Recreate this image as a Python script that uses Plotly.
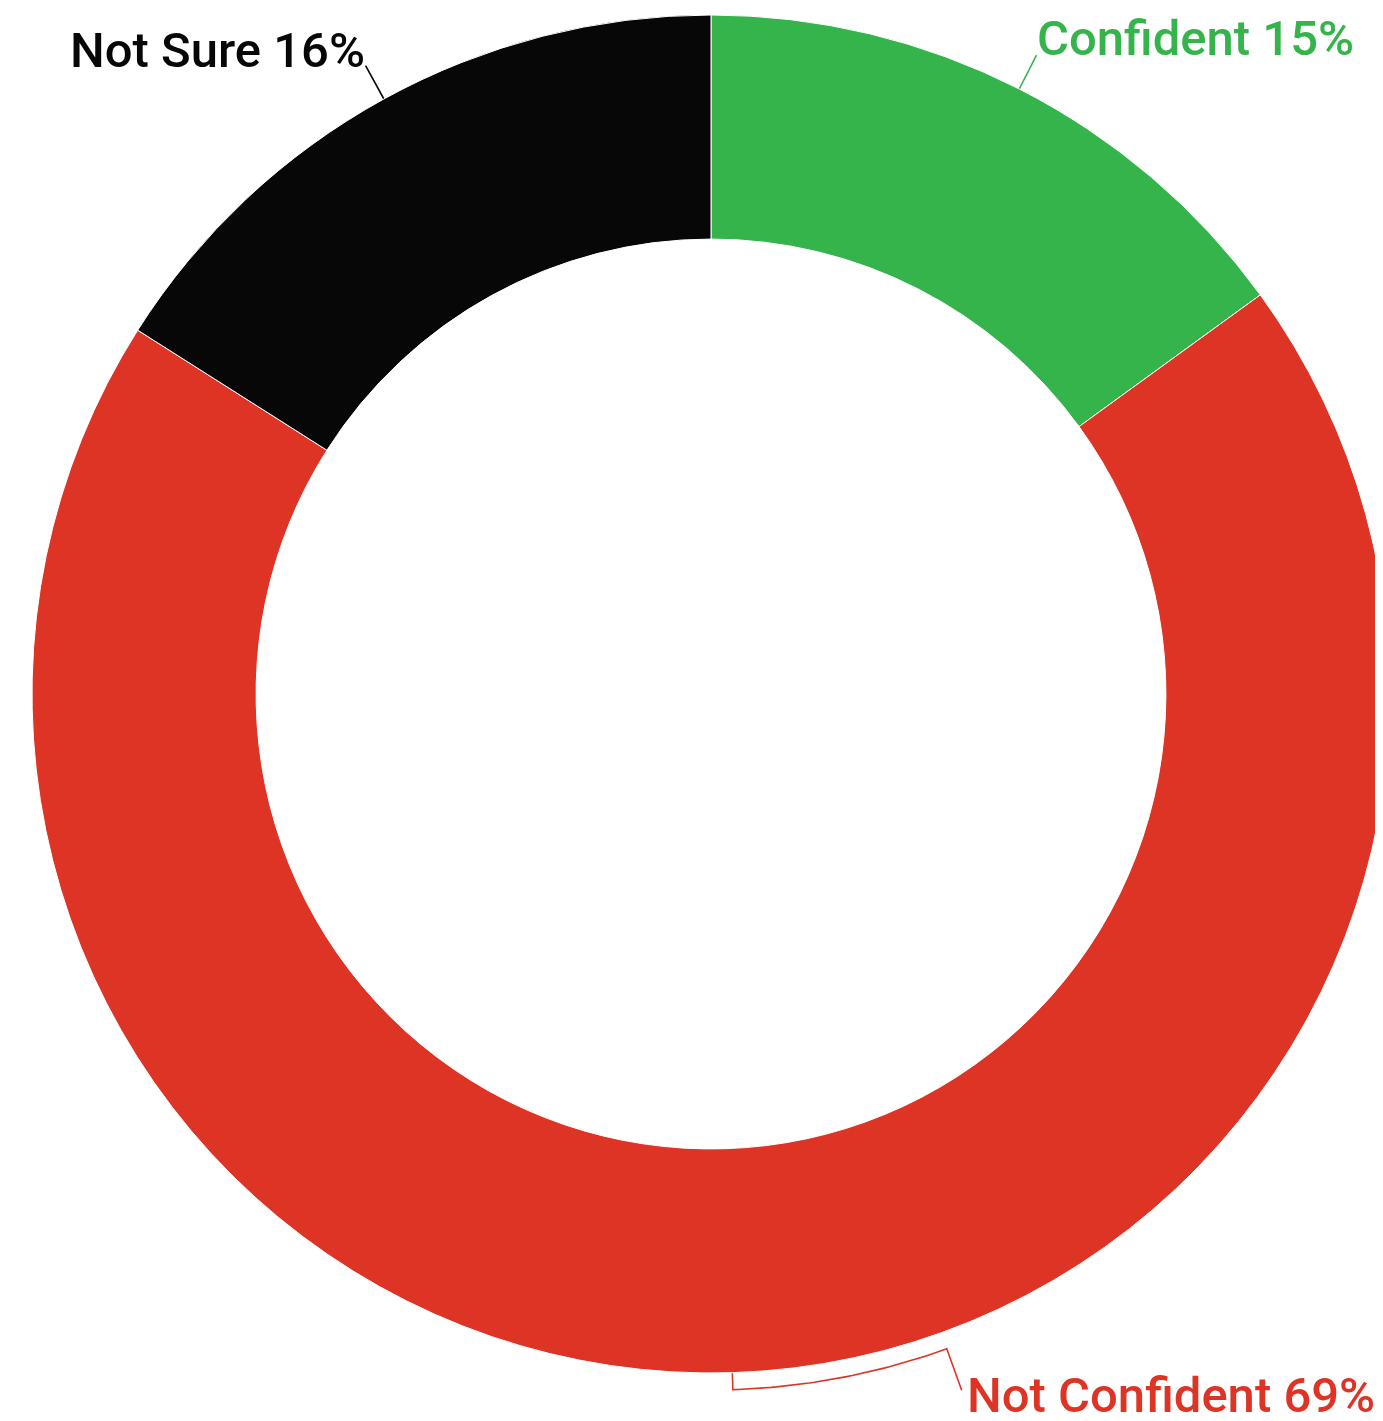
import math
import plotly.graph_objects as go

# ---- data ----
labels = ["Confident", "Not Confident", "Not Sure"]
values = [15, 69, 16]
colors = ["#35B44B", "#DE3426", "#070707"]

# ---- layout geometry (pixels, figure coordinates, y downward) ----
W, H = 1390, 1421
PIE_LEFT, PIE_TOP, PIE_SIZE = 24, 7, 1358
HOLE = 0.67
cx = PIE_LEFT + PIE_SIZE / 2
cy = PIE_TOP + PIE_SIZE / 2
R = PIE_SIZE / 2

# label placement styling: (radial gap before arc, angular shift, final radial length)
label_style = {
    "Confident": dict(r1=38, shift=0, r2=38, xanchor="left", dx=-2, dy=-17),
    "Not Confident": dict(r1=17, shift=-18, r2=61, xanchor="left", dx=3, dy=5),
    "Not Sure": dict(r1=38, shift=0, r2=38, xanchor="right", dx=1, dy=-15),
}


def pt(angle_deg, r):
    a = math.radians(angle_deg)
    return cx + r * math.sin(a), cy - r * math.cos(a)


total = sum(values)
fig = go.Figure()

fig.add_trace(
    go.Pie(
        labels=labels,
        values=values,
        hole=HOLE,
        sort=False,
        direction="clockwise",
        rotation=0,
        marker=dict(colors=colors, line=dict(color="white", width=1)),
        textinfo="none",
        showlegend=False,
        hoverinfo="label+percent",
        domain=dict(
            x=[PIE_LEFT / W, (PIE_LEFT + PIE_SIZE) / W],
            y=[1 - (PIE_TOP + PIE_SIZE) / H, 1 - PIE_TOP / H],
        ),
    )
)

cum = 0.0
for lab, val, col in zip(labels, values, colors):
    mid = (cum + val / 2) / total * 360
    cum += val
    st = label_style[lab]
    xs, ys = [], []
    x0, y0 = pt(mid, R)
    xs.append(x0); ys.append(y0)
    x1, y1 = pt(mid, R + st["r1"])
    xs.append(x1); ys.append(y1)
    end_ang = mid + st["shift"]
    if st["shift"] != 0:
        n = 40
        for k in range(1, n + 1):
            a = mid + st["shift"] * k / n
            xa, ya = pt(a, R + st["r1"])
            xs.append(xa); ys.append(ya)
    x2, y2 = pt(end_ang, R + st["r2"])
    xs.append(x2); ys.append(y2)
    fig.add_trace(
        go.Scatter(
            x=xs, y=ys, mode="lines",
            line=dict(color=col, width=1.6),
            hoverinfo="skip", showlegend=False,
        )
    )
    pct = round(val / total * 100)
    fig.add_annotation(
        x=x2, y=y2, xref="x", yref="y",
        text=f"{lab} {pct}%",
        showarrow=False,
        xanchor=st["xanchor"], yanchor="middle",
        xshift=st["dx"], yshift=-st["dy"],
        font=dict(family="Roboto", size=49, color=col, weight=500),
    )

fig.update_layout(
    width=W,
    height=H,
    margin=dict(l=0, r=0, t=0, b=0),
    paper_bgcolor="white",
    plot_bgcolor="rgba(0,0,0,0)",
    xaxis=dict(range=[0, W], visible=False, fixedrange=True, domain=[0, 1]),
    yaxis=dict(range=[H, 0], visible=False, fixedrange=True, domain=[0, 1]),
)

fig.write_html("out.html")
